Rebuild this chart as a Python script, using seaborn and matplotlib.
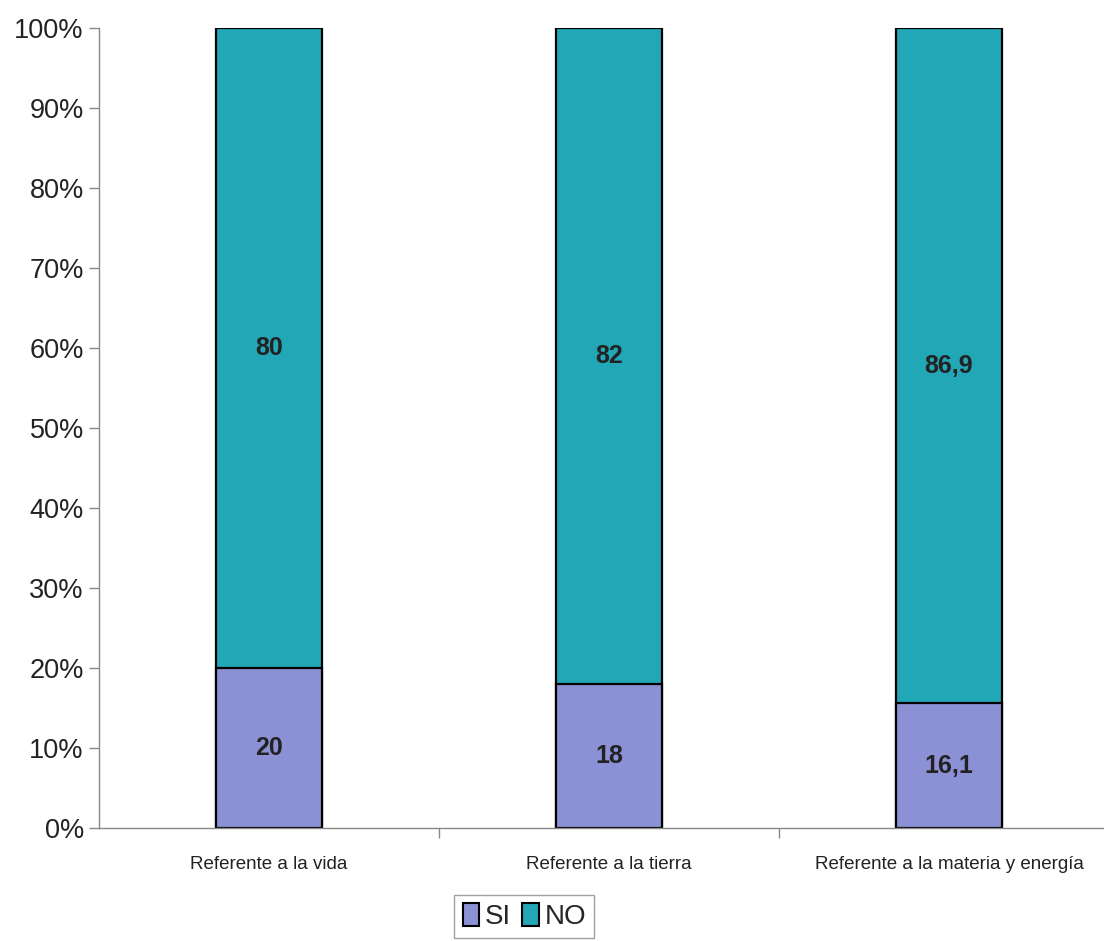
import matplotlib
matplotlib.use("Agg")
import matplotlib.pyplot as plt
from matplotlib.patches import Patch
from matplotlib.ticker import FixedLocator, PercentFormatter
import seaborn as sns
import pandas as pd

categories = ["Referente a la vida", "Referente a la tierra", "Referente a la materia y energía"]
si_values = [20, 18, 16.1]
no_values = [80, 82, 86.9]
si_labels = ["20", "18", "16,1"]
no_labels = ["80", "82", "86,9"]

SI_COLOR = "#8c91d6"
NO_COLOR = "#22a7b7"

sns.set_theme(style="white")
plt.rcParams["font.family"] = ["Liberation Sans", "DejaVu Sans"]

df = pd.DataFrame({"cat": categories, "SI": si_values, "NO": no_values})
df["total"] = df["SI"] + df["NO"]
df["si_pct"] = df["SI"] / df["total"] * 100
df["full_pct"] = df["total"] / df["total"] * 100

fig = plt.figure(figsize=(11.04, 9.41), dpi=100)
ax = fig.add_axes([0.0897, 0.120, 0.9103, 0.850])

# 100% stacked: full bar in NO colour, SI share drawn over it
sns.barplot(data=df, x="cat", y="full_pct", color=NO_COLOR, width=0.31,
            edgecolor="black", linewidth=1.6, ax=ax, saturation=1)
sns.barplot(data=df, x="cat", y="si_pct", color=SI_COLOR, width=0.31,
            edgecolor="black", linewidth=1.6, ax=ax, saturation=1)

for i, row in df.iterrows():
    ax.text(i, row["si_pct"] / 2, si_labels[i], ha="center", va="center",
            fontsize=18, fontweight="bold", color="#222222")
    ax.text(i, row["si_pct"] + (100 - row["si_pct"]) / 2, no_labels[i],
            ha="center", va="center", fontsize=18, fontweight="bold", color="#222222")

ax.set_xlim(-0.5, 2.456)
ax.set_ylim(0, 100)
ax.yaxis.set_major_locator(FixedLocator(range(0, 101, 10)))
ax.yaxis.set_major_formatter(PercentFormatter(decimals=0))
ax.set_xlabel("")
ax.set_ylabel("")

for side in ["top", "right"]:
    ax.spines[side].set_visible(False)
for side in ["left", "bottom"]:
    ax.spines[side].set_color("#888888")
    ax.spines[side].set_linewidth(1.0)

ax.tick_params(axis="y", which="major", left=True, length=7, width=1,
               color="#888888", labelsize=19.5, pad=4, labelcolor="#222222")
ax.tick_params(axis="x", which="major", bottom=False, labelsize=13.5,
               pad=14, labelcolor="#222222")
ax.xaxis.set_minor_locator(FixedLocator([0.5, 1.5]))
ax.tick_params(axis="x", which="minor", bottom=True, length=7, width=1,
               color="#888888")

handles = [Patch(facecolor=SI_COLOR, edgecolor="black", linewidth=1.5, label="SI"),
           Patch(facecolor=NO_COLOR, edgecolor="black", linewidth=1.5, label="NO")]
fig.legend(handles=handles, loc="upper center", bbox_to_anchor=(0.475, 0.064),
           ncol=2, fontsize=20, frameon=True, fancybox=False, edgecolor="#888888",
           handlelength=0.6, handleheight=0.9, handletextpad=0.2, columnspacing=0.4,
           borderpad=0.3)

fig.savefig("out.png", dpi=100, facecolor="white")
